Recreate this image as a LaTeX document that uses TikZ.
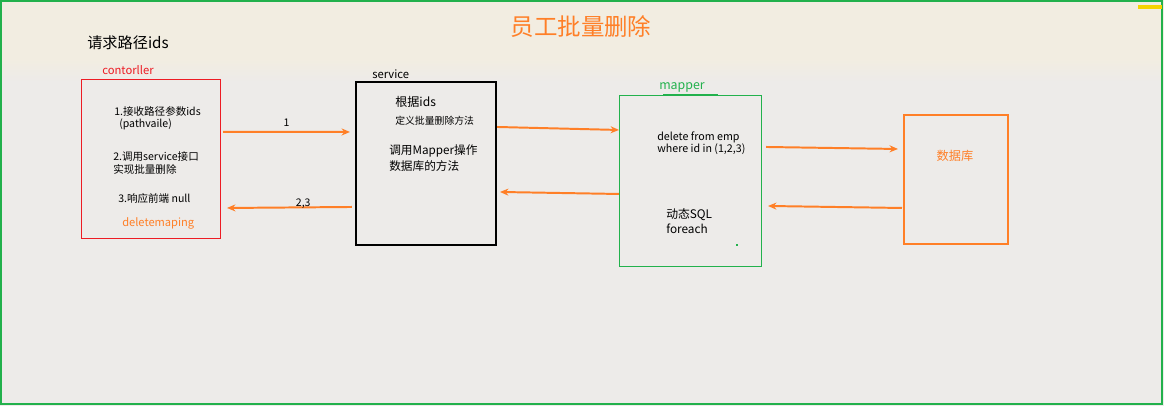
\documentclass[tikz,border=0pt]{standalone}
\usepackage{fontspec}
\setmainfont{Noto Sans CJK SC}
\usepackage{xcolor}
\usepackage{tikz}
\usetikzlibrary{arrows.meta}

\definecolor{pOrange}{RGB}{255,127,39}
\definecolor{pRed}{RGB}{237,28,36}
\definecolor{pGreen}{RGB}{34,177,76}
\definecolor{pYellow}{RGB}{245,211,0}
\definecolor{bgTop}{RGB}{242,237,225}
\definecolor{bgLow}{RGB}{237,235,233}

\begin{document}
\begin{tikzpicture}[x=0.025cm, y=-0.025cm, font=\fontsize{7.5pt}{9pt}\selectfont]

\tikzstyle{ctrlbox} = [rectangle, draw=pRed, line width=0.7pt,
                       minimum width=3.45cm, minimum height=3.95cm,
                       inner sep=0pt, outer sep=0pt]
\tikzstyle{svcbox}  = [rectangle, draw=black, line width=1.5pt,
                       minimum width=3.5cm, minimum height=4.075cm,
                       inner sep=0pt, outer sep=0pt]
\tikzstyle{mapbox}  = [rectangle, draw=pGreen, line width=0.7pt,
                       minimum width=3.525cm, minimum height=4.25cm,
                       inner sep=0pt, outer sep=0pt]
\tikzstyle{dbbox}   = [rectangle, draw=pOrange, line width=1.5pt,
                       minimum width=2.6cm, minimum height=3.225cm,
                       inner sep=0pt, outer sep=0pt]
\tikzstyle{txt}     = [anchor=west, inner sep=0pt]
\tikzstyle{flow}    = [draw=pOrange, line width=1.4pt,
                       -{Stealth[length=6pt, width=5pt]}]
\tikzstyle{lbl}     = [inner sep=0pt, text=black]

\useasboundingbox (0,0) rectangle (1164,406);

% ── Background ───────────────────────────────────────
\fill[bgLow] (0,0) rectangle (1164,406);
\fill[bgTop] (0,0) rectangle (1164,58);
\shade[top color=bgTop, bottom color=bgLow] (0,58) rectangle (1164,82);
\draw[pGreen, line width=1.2pt] (1,1) rectangle (1162,404);
\fill[pYellow] (1138,5) rectangle (1162,9);

% ── Titles ───────────────────────────────────────────
\node[text=pOrange, font=\fontsize{16.7pt}{19pt}\selectfont] (title) at (581,27) {员工批量删除};
\node[txt, font=\fontsize{10.8pt}{13pt}\selectfont] (req) at (87,43) {请求路径ids};

% ── Boxes ────────────────────────────────────────────
\node[ctrlbox] (ctrl) at (151,159)   {};
\node[svcbox]  (svc)  at (426,163.5) {};
\node[mapbox]  (map)  at (690.5,181) {};
\node[dbbox]   (db)   at (956,179.5) {};

% ── Box captions ─────────────────────────────────────
\node[txt, text=pRed, font=\fontsize{8pt}{10pt}\selectfont]   (ctrlcap) at (102,70) {contorller};
\node[txt, font=\fontsize{8pt}{10pt}\selectfont]              (svccap)  at (372,74) {service};
\node[txt, text=pGreen, font=\fontsize{8.8pt}{10pt}\selectfont] (mapcap) at (659,87) {mapper};
\draw[pGreen, line width=1pt] (663,95) -- (718,95);

% ── controller text ──────────────────────────────────
\node[txt] (c1) at (114,111) {1.接收路径参数ids};
\node[txt] (c2) at (119,124) {(pathvaile)};
\node[txt] (c3) at (113,157) {2.调用service接口};
\node[txt] (c4) at (113,169) {实现批量删除};
\node[txt] (c5) at (118,198) {3.响应前端 null};
\node[txt, text=pOrange, font=\fontsize{7.9pt}{9pt}\selectfont] (c6) at (122,223) {deletemaping};

% ── service text ─────────────────────────────────────
\node[txt, font=\fontsize{8.6pt}{10pt}\selectfont] (s1) at (395,102) {根据ids};
\node[txt, font=\fontsize{7pt}{8pt}\selectfont]    (s2) at (395,121) {定义批量删除方法};
\node[txt, font=\fontsize{8.3pt}{10pt}\selectfont] (s3) at (389,151) {调用Mapper操作};
\node[txt, font=\fontsize{8.3pt}{10pt}\selectfont] (s4) at (389,166) {数据库的方法};

% ── mapper text ──────────────────────────────────────
\node[txt, font=\fontsize{7.6pt}{9pt}\selectfont] (m1) at (657,137) {delete from emp};
\node[txt, font=\fontsize{7.6pt}{9pt}\selectfont] (m2) at (657,149) {where id in (1,2,3)};
\node[txt, font=\fontsize{8.4pt}{10pt}\selectfont] (m3) at (666,215) {动态SQL};
\node[txt, font=\fontsize{8.4pt}{10pt}\selectfont] (m4) at (666,229) {foreach};
\fill[pGreen] (736,244) rectangle (738,246);

% ── database text ────────────────────────────────────
\node[text=pOrange, font=\fontsize{8.7pt}{10pt}\selectfont] (dbtxt) at (955,156) {数据库};

% ── Arrows: request ──────────────────────────────────
\draw[flow] ([shift={(3,52)}]ctrl.north east) -- ([shift={(-6,50)}]svc.north west)
  node[lbl, midway, yshift=6.5pt] {1};
\draw[flow] ([shift={(1,45)}]svc.north east) -- ([shift={(-1,34)}]map.north west);
\draw[flow] ([shift={(5,51)}]map.north east) -- ([shift={(-6,34)}]db.north west);

% ── Arrows: response ─────────────────────────────────
\draw[flow] ([shift={(-2,93)}]db.north west) -- ([shift={(7,110)}]map.north east);
\draw[flow] ([shift={(-1,98)}]map.north west) -- ([shift={(4,110)}]svc.north east);
\draw[flow] ([shift={(-4,125)}]svc.north west) -- ([shift={(7,128)}]ctrl.north east)
  node[lbl, pos=0.39, yshift=2.5pt] {2,3};

\end{tikzpicture}
\end{document}
